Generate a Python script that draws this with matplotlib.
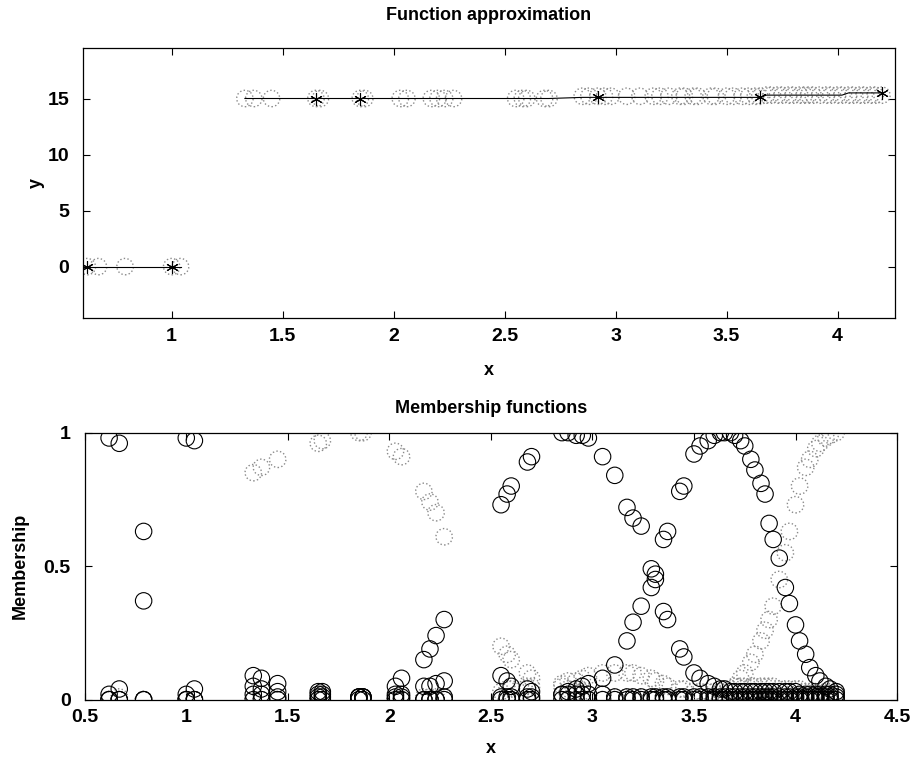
import matplotlib
matplotlib.use("Agg")
import matplotlib.pyplot as plt

plt.rcParams['font.family'] = ['Liberation Sans', 'DejaVu Sans']
plt.rcParams['font.weight'] = 'bold'

# sample points (input x)
x = [0.62, 0.67, 0.79, 1.00, 1.04,
     1.33, 1.37, 1.45, 1.65, 1.67,
     1.85, 1.87, 2.03, 2.06, 2.17,
     2.20, 2.23, 2.27, 2.55, 2.58,
     2.60, 2.68, 2.70, 2.85, 2.88,
     2.92, 2.95, 2.98, 3.05, 3.11,
     3.17, 3.20, 3.24, 3.29, 3.31,
     3.35, 3.37, 3.43, 3.45, 3.50,
     3.53, 3.57, 3.60, 3.63, 3.65,
     3.68, 3.70, 3.73, 3.75, 3.78,
     3.80, 3.83, 3.85, 3.87, 3.89,
     3.92, 3.95, 3.97, 4.00, 4.02,
     4.05, 4.07, 4.10, 4.12, 4.15,
     4.17, 4.20]

# target output and network approximation
y_target = [0, 0, 0, 0, 0] + [15] * 18 + [15.2] * 22 + [15.3] * 22
y_approx = [0, 0, 0, 0, 0] + [15] * 18 + [15.1] * 22 + [15.3] * 15 + [15.5] * 7
star_idx = [0, 3, 8, 10, 25, 44, 66]

# membership values (black sets)
mf_a = [0.98, 0.96, 0.63, 0.98, 0.97,
        0.09, 0.08, 0.06, 0.03, 0.03,
        0.01, 0.01, 0.01, 0.01, 0.0,
        0.0, 0.0, 0.0, 0.0, 0.0,
        0.0, 0.0, 0.0, 0.0, 0.0,
        0.0, 0.0, 0.0, 0.0, 0.0,
        0.0, 0.0, 0.0, 0.0, 0.0,
        0.0, 0.0, 0.0, 0.0, 0.0,
        0.0, 0.0, 0.0, 0.0, 0.0,
        0.0, 0.0, 0.0, 0.0, 0.0,
        0.0, 0.0, 0.0, 0.0, 0.0,
        0.0, 0.0, 0.0, 0.0, 0.0,
        0.0, 0.0, 0.0, 0.0, 0.0,
        0.0, 0.0]
mf_b = [0.02, 0.04, 0.37, 0.02, 0.04,
        0.05, 0.04, 0.03, 0.02, 0.02,
        0.01, 0.01, 0.02, 0.02, 0.05,
        0.05, 0.06, 0.07, 0.09, 0.07,
        0.05, 0.04, 0.03, 0.02, 0.02,
        0.02, 0.02, 0.02, 0.02, 0.01,
        0.01, 0.01, 0.01, 0.01, 0.01,
        0.01, 0.01, 0.01, 0.01, 0.01,
        0.01, 0.01, 0.01, 0.01, 0.01,
        0.01, 0.01, 0.01, 0.01, 0.01,
        0.01, 0.01, 0.01, 0.01, 0.01,
        0.01, 0.01, 0.01, 0.01, 0.01,
        0.01, 0.01, 0.01, 0.01, 0.01,
        0.01, 0.01]
mf_c = [0.0, 0.0, 0.0, 0.0, 0.0,
        0.02, 0.02, 0.01, 0.01, 0.01,
        0.01, 0.01, 0.05, 0.08, 0.15,
        0.19, 0.24, 0.30, 0.73, 0.77,
        0.80, 0.89, 0.91, 1.0, 1.0,
        0.99, 0.99, 0.98, 0.91, 0.84,
        0.72, 0.68, 0.65, 0.49, 0.45,
        0.33, 0.30, 0.19, 0.16, 0.10,
        0.08, 0.06, 0.05, 0.04, 0.04,
        0.03, 0.03, 0.03, 0.03, 0.03,
        0.03, 0.03, 0.03, 0.03, 0.03,
        0.03, 0.03, 0.03, 0.03, 0.02,
        0.02, 0.02, 0.02, 0.02, 0.02,
        0.02, 0.02]
mf_d = [0.0, 0.0, 0.0, 0.0, 0.0,
        0.0, 0.0, 0.0, 0.0, 0.0,
        0.0, 0.0, 0.0, 0.0, 0.0,
        0.0, 0.0, 0.01, 0.01, 0.01,
        0.01, 0.01, 0.01, 0.02, 0.03,
        0.04, 0.05, 0.06, 0.08, 0.13,
        0.22, 0.29, 0.35, 0.42, 0.47,
        0.60, 0.63, 0.78, 0.80, 0.92,
        0.95, 0.97, 0.99, 1.0, 1.0,
        1.0, 0.99, 0.97, 0.95, 0.90,
        0.86, 0.81, 0.77, 0.66, 0.60,
        0.53, 0.42, 0.36, 0.28, 0.22,
        0.17, 0.12, 0.09, 0.07, 0.05,
        0.04, 0.03]

# membership values (grey sets)
mf_e = [0.0, 0.01, 0.0, 0.0, 0.0,
        0.85, 0.87, 0.90, 0.96, 0.97,
        1.0, 1.0, 0.93, 0.91, 0.78,
        0.74, 0.70, 0.61, 0.20, 0.17,
        0.15, 0.10, 0.08, 0.05, 0.04,
        0.03, 0.03, 0.02, 0.02, 0.01,
        0.01, 0.01, 0.01, 0.01, 0.01,
        0.01, 0.01, 0.01, 0.01, 0.01,
        0.01, 0.0, 0.0, 0.0, 0.0,
        0.0, 0.0, 0.0, 0.0, 0.0,
        0.0, 0.0, 0.0, 0.0, 0.0,
        0.0, 0.0, 0.0, 0.0, 0.0,
        0.0, 0.0, 0.0, 0.0, 0.0,
        0.0, 0.0]
mf_f = [0.0, 0.0, 0.0, 0.0, 0.0,
        0.0, 0.0, 0.0, 0.0, 0.0,
        0.0, 0.0, 0.0, 0.0, 0.01,
        0.01, 0.01, 0.01, 0.03, 0.04,
        0.04, 0.05, 0.05, 0.06, 0.07,
        0.07, 0.08, 0.09, 0.10, 0.10,
        0.10, 0.10, 0.09, 0.08, 0.07,
        0.06, 0.05, 0.04, 0.04, 0.03,
        0.03, 0.03, 0.03, 0.03, 0.04,
        0.04, 0.05, 0.05, 0.05, 0.05,
        0.05, 0.05, 0.05, 0.05, 0.05,
        0.04, 0.04, 0.04, 0.04, 0.04,
        0.03, 0.03, 0.03, 0.03, 0.03,
        0.03, 0.03]
mf_g = [0.0, 0.0, 0.0, 0.0, 0.0,
        0.0, 0.0, 0.0, 0.0, 0.0,
        0.0, 0.0, 0.0, 0.0, 0.0,
        0.0, 0.0, 0.0, 0.0, 0.0,
        0.0, 0.0, 0.0, 0.0, 0.0,
        0.0, 0.0, 0.0, 0.0, 0.0,
        0.0, 0.0, 0.0, 0.0, 0.0,
        0.0, 0.0, 0.0, 0.0, 0.01,
        0.01, 0.01, 0.01, 0.02, 0.02,
        0.03, 0.05, 0.08, 0.10, 0.14,
        0.17, 0.22, 0.26, 0.30, 0.35,
        0.45, 0.55, 0.63, 0.73, 0.80,
        0.87, 0.90, 0.94, 0.96, 0.98,
        0.99, 1.0]

black_sets = [mf_a, mf_b, mf_c, mf_d]
grey_sets = [mf_e, mf_f, mf_g]

fig = plt.figure(figsize=(9.21, 7.63), dpi=100)
ax1 = fig.add_axes([0.090, 0.583, 0.882, 0.354])
ax2 = fig.add_axes([0.092, 0.083, 0.882, 0.350])

# top: function approximation
ax1.scatter(x, y_target, s=140, facecolors='none', edgecolors='#8a8a8a',
            linestyles=':', linewidths=1.0, zorder=2)
ax1.plot(x[:5], y_approx[:5], color='black', lw=0.8, zorder=3)
ax1.plot(x[5:], y_approx[5:], color='black', lw=0.8, zorder=3)
ax1.plot([x[i] for i in star_idx], [y_approx[i] for i in star_idx], ls='none',
         marker=(6, 2, 0), ms=9, mec='black', mew=0.8, zorder=4)
ax1.set_xlim(0.6, 4.26)
ax1.set_ylim(-4.6, 19.5)
ax1.set_xticks([1, 1.5, 2, 2.5, 3, 3.5, 4])
ax1.set_xticklabels(['1', '1.5', '2', '2.5', '3', '3.5', '4'])
ax1.set_yticks([0, 5, 10, 15])
ax1.set_title('Function approximation', fontsize=13, fontweight='bold', pad=20)
ax1.set_xlabel('x', fontsize=13, fontweight='bold', labelpad=12)
ax1.set_ylabel('y', fontsize=13, fontweight='bold', labelpad=2)

# bottom: membership functions
for mf in grey_sets:
    ax2.scatter(x, mf, s=140, facecolors='none', edgecolors='#8a8a8a',
                linestyles=':', linewidths=1.0, zorder=2)
for mf in black_sets:
    ax2.scatter(x, mf, s=140, facecolors='none', edgecolors='black',
                linewidths=0.8, zorder=3)
ax2.set_xlim(0.5, 4.5)
ax2.set_ylim(0, 1)
ax2.set_xticks([0.5, 1, 1.5, 2, 2.5, 3, 3.5, 4, 4.5])
ax2.set_xticklabels(['0.5', '1', '1.5', '2', '2.5', '3', '3.5', '4', '4.5'])
ax2.set_yticks([0, 0.5, 1])
ax2.set_yticklabels(['0', '0.5', '1'])
ax2.set_title('Membership functions', fontsize=13, fontweight='bold', pad=14)
ax2.set_xlabel('x', fontsize=13, fontweight='bold', labelpad=10)
ax2.set_ylabel('Membership', fontsize=13, fontweight='bold', labelpad=11)

for ax in (ax1, ax2):
    ax.tick_params(direction='in', top=True, right=True, length=5,
                   labelsize=14, width=0.8)
    ax.tick_params(axis='x', pad=7)
    ax.tick_params(axis='y', pad=10)
    for lab in ax.get_xticklabels() + ax.get_yticklabels():
        lab.set_fontweight('bold')
    for sp in ax.spines.values():
        sp.set_linewidth(0.9)

fig.savefig('out.png', dpi=100)
